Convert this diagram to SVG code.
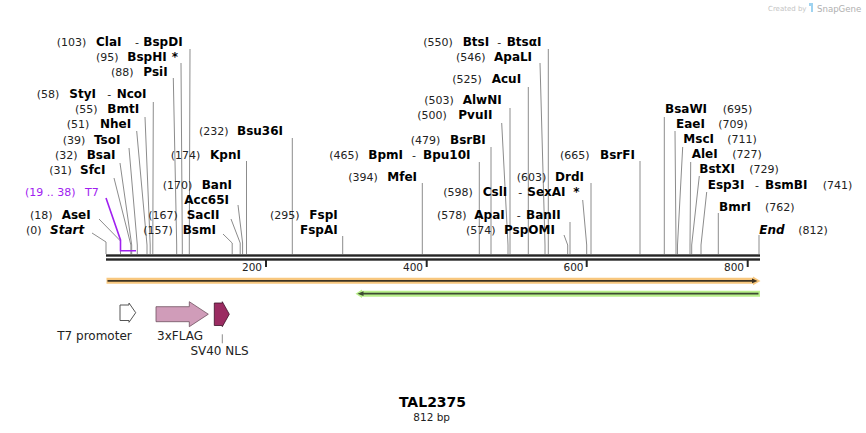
<svg xmlns="http://www.w3.org/2000/svg" width="866" height="433" viewBox="0 0 866 433">
<style>
text{font-family:"DejaVu Sans","Verdana",sans-serif}
.n{font-size:11px;fill:#222}
.e{font-size:12px;font-weight:bold;fill:#000}
.bi{font-size:12px;font-weight:bold;font-style:italic;fill:#000}
.pu{font-size:11px;fill:#a020f0}
.t{font-size:10.5px;fill:#222}
.f{font-size:12px;fill:#222}
.ln{stroke:#8c8c8c;stroke-width:1;fill:none}
</style>
<rect width="866" height="433" fill="#fff"/>
<g id="logo">
<text x="768" y="11" style="font-size:7px;fill:#c4c4c4">Created by</text>
<path d="M809,3 h4 v9 h-2 v-6 h-2 z" fill="#9fd3f0"/>
<text x="817" y="11.5" style="font-size:8.6px;fill:#b0b0b0">SnapGene</text>
</g>
<g id="connectors">
<polyline class="ln" points="92,233 106,242 106,254"/>
<polyline class="ln" points="99,219 120.5,241 120.5,254"/>
<polyline class="ln" points="114,178 130.9,245 130.9,254"/>
<polyline class="ln" points="120,163 131.7,245 131.7,254"/>
<polyline class="ln" points="129,148 137.3,245 137.3,254"/>
<polyline class="ln" points="136.7,131 147,245 147,254"/>
<polyline class="ln" points="145,117 150.2,245 150.2,254"/>
<polyline class="ln" points="153.3,102 152.8,245 152.8,254"/>
<polyline class="ln" points="173.3,78 176.7,245 176.7,254"/>
<polyline class="ln" points="181,63 182.3,245 182.3,254"/>
<polyline class="ln" points="190,49 189.3,245 189.3,254"/>
<polyline class="ln" points="223,234 232.2,243 232.2,254"/>
<polyline class="ln" points="231,219 240.2,243 240.2,254"/>
<polyline class="ln" points="238,205 242.6,243 242.6,254"/>
<polyline class="ln" points="246.5,161 246.5,254"/>
<polyline class="ln" points="292.3,138 292.3,254"/>
<polyline class="ln" points="342.7,236 342.7,254"/>
<polyline class="ln" points="422.3,183 422.3,254"/>
<polyline class="ln" points="479.3,162 479.3,254"/>
<polyline class="ln" points="491,147 491,254"/>
<polyline class="ln" points="501.7,123 508,245 508,254"/>
<polyline class="ln" points="510,108 510,254"/>
<polyline class="ln" points="528.3,87 528.3,254"/>
<polyline class="ln" points="540,63 545,245 545,254"/>
<polyline class="ln" points="548.3,49 548.3,254"/>
<polyline class="ln" points="564,235 567.7,245 567.7,254"/>
<polyline class="ln" points="570,222 570,254"/>
<polyline class="ln" points="582.7,200 586.7,245 586.7,254"/>
<polyline class="ln" points="591,183 591,254"/>
<polyline class="ln" points="640,161 640,254"/>
<polyline class="ln" points="664.3,117 664.3,254"/>
<polyline class="ln" points="675,131 676,245 676,254"/>
<polyline class="ln" points="682.7,147 677.5,245 677.5,254"/>
<polyline class="ln" points="690.7,162 690,245 690,254"/>
<polyline class="ln" points="699.3,176 691.7,245 691.7,254"/>
<polyline class="ln" points="706.7,192 701,245 701,254"/>
<polyline class="ln" points="718.3,213 718.3,254"/>
<polyline class="ln" points="759,235 759,254"/>
<polyline points="106,198 120.5,240 120.5,250.7 136,250.7" fill="none" stroke="#a020f0" stroke-width="1.6"/>
</g>
<g id="ruler">
<rect x="106" y="254.3" width="654" height="2.4" fill="#262626"/>
<rect x="106" y="258.3" width="654" height="2.4" fill="#262626"/>
<rect x="265" y="260" width="2" height="7" fill="#262626"/>
<rect x="425.7" y="260" width="2" height="7" fill="#262626"/>
<rect x="585.7" y="260" width="2" height="7" fill="#262626"/>
<rect x="746.7" y="260" width="2" height="7" fill="#262626"/>
<text class="t" x="262" y="271" text-anchor="end">200</text>
<text class="t" x="423" y="271" text-anchor="end">400</text>
<text class="t" x="583.5" y="271" text-anchor="end">600</text>
<text class="t" x="744" y="271" text-anchor="end">800</text>
</g>
<g id="orf-forward">
<polygon points="106.5,277.7 753,277.7 753,276.5 760.5,280.9 753,285.2 753,283.8 106.5,283.8" fill="#f8c77e"/>
<line x1="107.5" y1="280.9" x2="753" y2="280.9" stroke="#3d3323" stroke-width="1.8"/>
<polygon points="752,278.6 757.5,280.9 752,283.2" fill="#3d3323"/>
</g>
<g id="orf-reverse">
<polygon points="355.5,293.7 362,289.4 362,290.7 760,290.7 760,296.7 362,296.7 362,298" fill="#b9f08b"/>
<line x1="362" y1="293.7" x2="758.5" y2="293.7" stroke="#3d4a33" stroke-width="1.8"/>
<polygon points="357.5,293.7 363.5,291.3 363.5,296.1" fill="#3d4a33"/>
</g>
<g id="T7-promoter">
<polygon points="120,305 129,305 129,303 135.7,312.7 129,322.3 129,320.5 120,320.5" fill="#fff" stroke="#555" stroke-width="1"/>
<text class="f" x="94.5" y="340" text-anchor="middle">T7 promoter</text>
</g>
<g id="3xFLAG">
<polygon points="156,306.7 189.3,306.7 189.3,301.7 208.3,314.2 189.3,326.7 189.3,321.7 156,321.7" fill="#d09cb9" stroke="#6e5060" stroke-width="0.8"/>
<text class="f" x="180" y="340" text-anchor="middle">3xFLAG</text>
</g>
<g id="SV40-NLS">
<polygon points="214.3,303 222.3,303 222.3,301.7 229.3,314.2 222.3,326.7 222.3,325.5 214.3,325.5" fill="#9b2c62" stroke="#3e1228" stroke-width="0.8"/>
<line x1="222.3" y1="334.3" x2="222.3" y2="343.3" stroke="#8c8c8c" stroke-width="1"/>
<text class="f" x="219.5" y="355" text-anchor="middle">SV40 NLS</text>
</g>
<g id="Start"><text class="n" x="26" y="234">(0)</text><text class="bi" x="50" y="234">Start</text></g>
<g id="AseI"><text class="n" x="30" y="219">(18)</text><text class="e" x="61.7" y="219">AseI</text></g>
<g id="T7"><text class="pu" x="25" y="196">(19 .. 38)</text><text class="pu" x="85" y="196">T7</text></g>
<g id="SfcI"><text class="n" x="49.3" y="174">(31)</text><text class="e" x="80" y="174">SfcI</text></g>
<g id="BsaI"><text class="n" x="55" y="159">(32)</text><text class="e" x="86.7" y="159">BsaI</text></g>
<g id="TsoI"><text class="n" x="62.7" y="144">(39)</text><text class="e" x="94" y="144">TsoI</text></g>
<g id="NheI"><text class="n" x="66.7" y="128">(51)</text><text class="e" x="100" y="128">NheI</text></g>
<g id="BmtI"><text class="n" x="75" y="113">(55)</text><text class="e" x="107.3" y="113">BmtI</text></g>
<g id="StyI"><text class="n" x="36.7" y="98">(58)</text><text class="e" x="69.3" y="98">StyI</text><text class="n" x="107.3" y="98">-</text><text class="e" x="116.7" y="98">NcoI</text></g>
<g id="PsiI"><text class="n" x="111" y="76">(88)</text><text class="e" x="143.3" y="76">PsiI</text></g>
<g id="BspHI"><text class="n" x="96" y="61">(95)</text><text class="e" x="127.3" y="61">BspHI</text><text class="e" x="171.7" y="61">*</text></g>
<g id="ClaI"><text class="n" x="56.7" y="46">(103)</text><text class="e" x="96" y="46">ClaI</text><text class="n" x="135" y="46">-</text><text class="e" x="143.3" y="46">BspDI</text></g>
<g id="BsmI"><text class="n" x="143.3" y="234">(157)</text><text class="e" x="182.7" y="234">BsmI</text></g>
<g id="SacII"><text class="n" x="148.3" y="219">(167)</text><text class="e" x="186.7" y="219">SacII</text></g>
<g id="BanI"><text class="n" x="162.7" y="189">(170)</text><text class="e" x="201.7" y="189">BanI</text><text class="e" x="184.3" y="204">Acc65I</text></g>
<g id="KpnI"><text class="n" x="170.7" y="159">(174)</text><text class="e" x="210" y="159">KpnI</text></g>
<g id="Bsu36I"><text class="n" x="199" y="135">(232)</text><text class="e" x="237" y="135">Bsu36I</text></g>
<g id="FspI"><text class="n" x="270" y="219">(295)</text><text class="e" x="309.3" y="219">FspI</text><text class="e" x="300" y="234">FspAI</text></g>
<g id="MfeI"><text class="n" x="348.3" y="181">(394)</text><text class="e" x="387.3" y="181">MfeI</text></g>
<g id="BpmI"><text class="n" x="329.3" y="159">(465)</text><text class="e" x="368.3" y="159">BpmI</text><text class="n" x="412" y="159">-</text><text class="e" x="423" y="159">Bpu10I</text></g>
<g id="BsrBI"><text class="n" x="410.7" y="144">(479)</text><text class="e" x="450" y="144">BsrBI</text></g>
<g id="PvuII"><text class="n" x="417.3" y="119">(500)</text><text class="e" x="458.3" y="119">PvuII</text></g>
<g id="AlwNI"><text class="n" x="424.3" y="104">(503)</text><text class="e" x="462.7" y="104">AlwNI</text></g>
<g id="AcuI"><text class="n" x="452.3" y="83">(525)</text><text class="e" x="491.7" y="83">AcuI</text></g>
<g id="ApaLI"><text class="n" x="456" y="61">(546)</text><text class="e" x="494" y="61">ApaLI</text></g>
<g id="BtsI"><text class="n" x="423.3" y="46">(550)</text><text class="e" x="462.7" y="46">BtsI</text><text class="n" x="497.3" y="46">-</text><text class="e" x="506.7" y="46">BtsαI</text></g>
<g id="PspOMI"><text class="n" x="466" y="234">(574)</text><text class="e" x="504" y="234">PspOMI</text></g>
<g id="ApaI"><text class="n" x="437" y="219">(578)</text><text class="e" x="474.3" y="219">ApaI</text><text class="n" x="516.7" y="219">-</text><text class="e" x="526" y="219">BanII</text></g>
<g id="CslI"><text class="n" x="443.3" y="196">(598)</text><text class="e" x="482.7" y="196">CslI</text><text class="n" x="518.3" y="196">-</text><text class="e" x="527.3" y="196">SexAI</text><text class="e" x="573.3" y="196">*</text></g>
<g id="DrdI"><text class="n" x="516.7" y="181">(603)</text><text class="e" x="555" y="181">DrdI</text></g>
<g id="BsrFI"><text class="n" x="560" y="159">(665)</text><text class="e" x="600" y="159">BsrFI</text></g>
<g id="BsaWI"><text class="e" x="665" y="113">BsaWI</text><text class="n" x="722.7" y="113">(695)</text></g>
<g id="EaeI"><text class="e" x="676" y="128">EaeI</text><text class="n" x="718.3" y="128">(709)</text></g>
<g id="MscI"><text class="e" x="683.3" y="143">MscI</text><text class="n" x="727.3" y="143">(711)</text></g>
<g id="AleI"><text class="e" x="691.7" y="158">AleI</text><text class="n" x="732.3" y="158">(727)</text></g>
<g id="BstXI"><text class="e" x="699.3" y="173">BstXI</text><text class="n" x="749.3" y="173">(729)</text></g>
<g id="Esp3I"><text class="e" x="707.7" y="189">Esp3I</text><text class="n" x="755" y="189">-</text><text class="e" x="765" y="189">BsmBI</text><text class="n" x="822.7" y="189">(741)</text></g>
<g id="BmrI"><text class="e" x="719" y="211">BmrI</text><text class="n" x="765" y="211">(762)</text></g>
<g id="End"><text class="bi" x="759.3" y="234">End</text><text class="n" x="798.3" y="234">(812)</text></g>
<g id="title">
<text x="432.5" y="407" text-anchor="middle" style="font-size:14px;font-weight:bold;fill:#000">TAL2375</text>
<text x="431.7" y="421" text-anchor="middle" style="font-size:10.5px;fill:#222">812 bp</text>
</g>
</svg>
